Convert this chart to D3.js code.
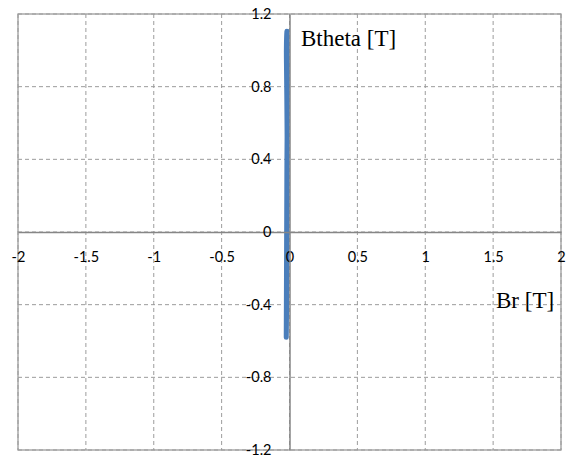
<!DOCTYPE html>
<html>
<head>
<meta charset="utf-8">
<script src="https://cdn.jsdelivr.net/npm/d3@7/dist/d3.min.js"></script>
<style>
  html, body { margin: 0; padding: 0; background: #fff; }
  svg { display: block; }
</style>
</head>
<body>
<svg id="chart" width="566" height="457"></svg>
<script>
// Axis ticks
const xTicks = [-2, -1.5, -1, -0.5, 0, 0.5, 1, 1.5, 2];
const yTicks = [-1.2, -0.8, -0.4, 0, 0.4, 0.8, 1.2];

// Br / Btheta trajectory [T]
const br =     [-0.018, -0.017, -0.016, -0.017, -0.019, -0.020, -0.021, -0.022, -0.023, -0.024, -0.022, -0.020, -0.019, -0.018, -0.017, -0.018, -0.020, -0.022, -0.023, -0.021, -0.019];
const btheta = [ 1.105,  0.95,   0.80,   0.60,   0.40,   0.20,   0.00,  -0.20,  -0.40,  -0.58,  -0.45,  -0.25,  -0.05,   0.15,   0.35,   0.55,   0.75,   0.90,   1.00,   1.08,   1.105];

const svg = d3.select("#chart");
const W = 566, H = 457;
const m = { left: 18, right: 5, top: 14, bottom: 7 };

const x = d3.scaleLinear().domain([-2, 2]).range([m.left, W - m.right]);
const y = d3.scaleLinear().domain([-1.2, 1.2]).range([H - m.bottom, m.top]);

const gridColor = "#9c9c9c";
const axisColor = "#868686";

// plain hyphen-minus labels
const fmt = d => String(d);

// dashed gridlines
const grid = svg.append("g");
grid.selectAll("line.gx").data(xTicks).join("line")
  .attr("x1", d => x(d)).attr("x2", d => x(d))
  .attr("y1", y(1.2)).attr("y2", y(-1.2))
  .attr("stroke", gridColor).attr("stroke-width", 1)
  .attr("stroke-dasharray", "4,3");
grid.selectAll("line.gy").data(yTicks).join("line")
  .attr("x1", x(-2)).attr("x2", x(2))
  .attr("y1", d => y(d)).attr("y2", d => y(d))
  .attr("stroke", gridColor).attr("stroke-width", 1)
  .attr("stroke-dasharray", "4,3");

// plot frame
svg.append("rect")
  .attr("x", x(-2)).attr("y", y(1.2))
  .attr("width", x(2) - x(-2)).attr("height", y(-1.2) - y(1.2))
  .attr("fill", "none").attr("stroke", gridColor).attr("stroke-width", 1.3);

// series, drawn under the axes and their labels
const pts = br.map((v, i) => [v, btheta[i]]);
const line = d3.line().x(d => x(d[0])).y(d => y(d[1])).curve(d3.curveCatmullRom);
svg.append("path")
  .datum(pts)
  .attr("d", line)
  .attr("fill", "none")
  .attr("stroke", "#4a7ebb")
  .attr("stroke-width", 5)
  .attr("stroke-linecap", "round")
  .attr("stroke-linejoin", "round");

// axes crossing at the origin
const xAxis = d3.axisBottom(x).tickValues(xTicks).tickSize(0).tickFormat(fmt);
const yAxis = d3.axisLeft(y).tickValues(yTicks).tickSize(0).tickFormat(fmt);

const gx = svg.append("g").attr("transform", `translate(0,${y(0)})`).call(xAxis);
const gy = svg.append("g").attr("transform", `translate(${x(0)},0)`).call(yAxis);
[gx, gy].forEach(g => {
  g.select(".domain").attr("stroke", axisColor).attr("stroke-width", 1.5);
  g.selectAll("text")
    .attr("font-family", "Lato, 'Open Sans', sans-serif")
    .attr("font-size", 14.5)
    .attr("fill", "#000");
});
gx.selectAll("text").attr("dy", "0.32em").attr("y", 25);
gy.selectAll("text").attr("x", -18);

// axis titles
svg.append("text")
  .attr("x", 301).attr("y", 46)
  .attr("font-family", "'Liberation Serif', 'Times New Roman', serif")
  .attr("font-size", 23)
  .attr("fill", "#000")
  .text("Btheta [T]");
svg.append("text")
  .attr("x", 496).attr("y", 308)
  .attr("font-family", "'Liberation Serif', 'Times New Roman', serif")
  .attr("font-size", 23)
  .attr("fill", "#000")
  .text("Br [T]");
</script>
</body>
</html>
